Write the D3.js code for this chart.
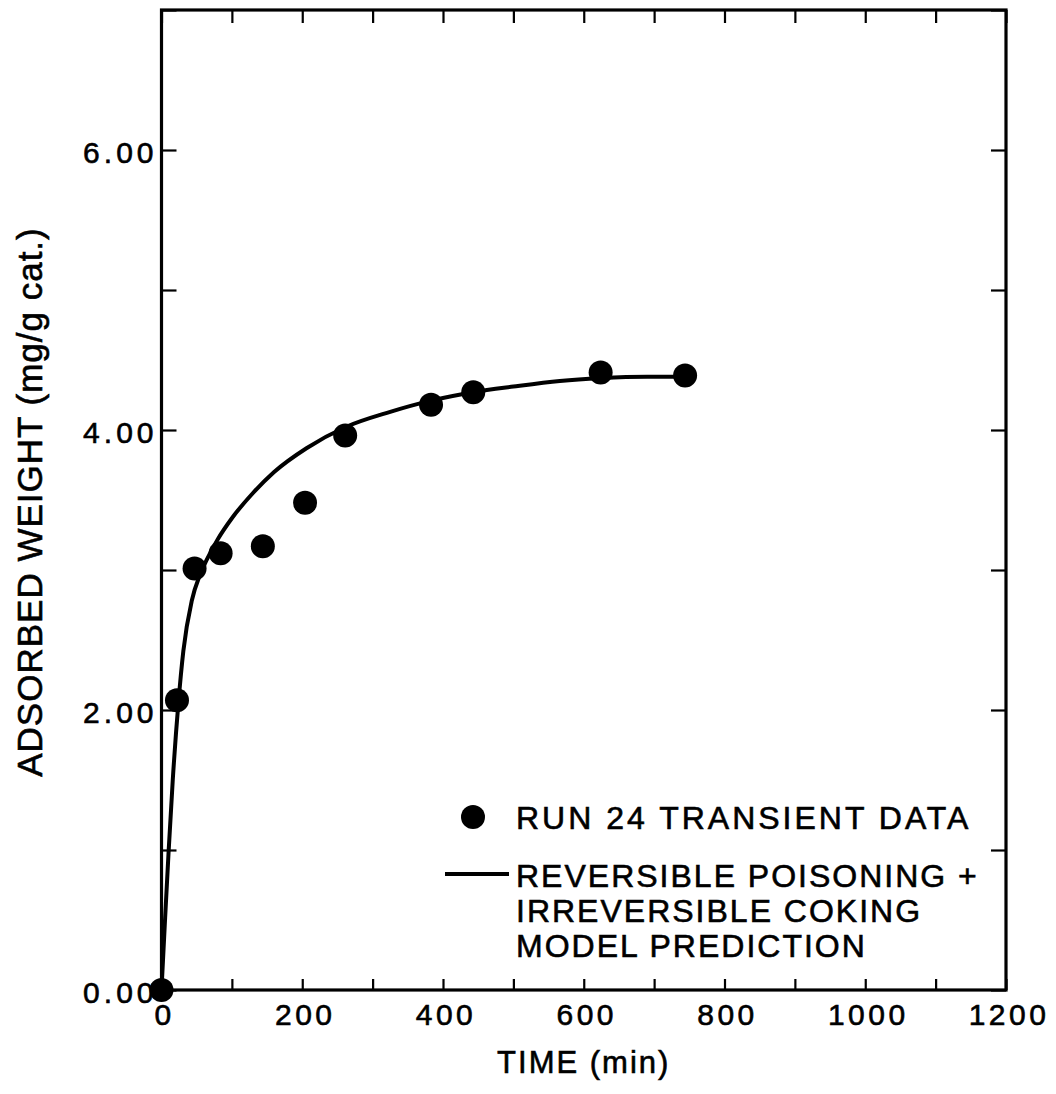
<!DOCTYPE html>
<html>
<head>
<meta charset="utf-8">
<script src="https://cdn.jsdelivr.net/npm/d3@7"></script>
<style>
  html, body { margin: 0; padding: 0; background: #fff; }
  svg { display: block; }
  text { font-family: "Liberation Sans", Arial, Helvetica, sans-serif; fill: #000; stroke: #000; stroke-width: 0.6px; }
</style>
</head>
<body>
<svg id="chart" width="1056" height="1094"></svg>
<script>
// ---- data ----
const runTime   = [0, 22, 47, 84, 144, 204, 261, 383, 443, 624, 744];
const runWeight = [0.00, 2.07, 3.01, 3.12, 3.17, 3.48, 3.96, 4.18, 4.27, 4.41, 4.39];

const modelTime   = [0, 5, 10, 16, 24, 31, 43, 55, 64, 80, 100, 130, 160, 206, 261, 325, 383, 443, 500, 566, 624, 690, 744];
const modelWeight = [0, 0.50, 0.98, 1.50, 2.05, 2.42, 2.78, 2.97, 3.07, 3.22, 3.37, 3.55, 3.70, 3.87, 4.02, 4.13, 4.21, 4.27, 4.31, 4.35, 4.37, 4.38, 4.38];

const xTicks = [0, 100, 200, 300, 400, 500, 600, 700, 800, 900, 1000, 1100, 1200];
const xTickLabels = ["0", "", "200", "", "400", "", "600", "", "800", "", "1000", "", "1200"];
const yTicks = [0, 1, 2, 3, 4, 5, 6, 7];
const yTickLabels = ["0.00", "", "2.00", "", "4.00", "", "6.00", ""];

const xTitle = "TIME (min)";
const yTitle = "ADSORBED WEIGHT (mg/g cat.)";
const legendLabels = ["RUN 24 TRANSIENT DATA", "REVERSIBLE POISONING +", "IRREVERSIBLE COKING", "MODEL PREDICTION"];

// ---- layout ----
const svg = d3.select("#chart");
const L = 161.5, R = 1006, T = 10, B = 990;
const x = d3.scaleLinear().domain([0, 1200]).range([L, R]);
const y = d3.scaleLinear().domain([0, 7]).range([B, T]);

// frame
svg.append("rect")
  .attr("x", L).attr("y", T).attr("width", R - L).attr("height", B - T)
  .attr("fill", "none").attr("stroke", "#000").attr("stroke-width", 3.2);

// axes (ticks pointing inward)
function styleAxis(g) {
  g.select(".domain").remove();
  g.selectAll(".tick line").attr("stroke", "#000").attr("stroke-width", 2.2);
}
const gB = svg.append("g").attr("transform", `translate(0,${B})`)
  .call(d3.axisBottom(x).tickValues(xTicks).tickSize(-11).tickFormat((d, i) => xTickLabels[i]));
styleAxis(gB);
gB.selectAll(".tick text")
  .attr("y", 35).attr("dy", null)
  .style("font-size", "30px").style("letter-spacing", "3.5px")
  .attr("dx", 2.5);

const gT = svg.append("g").attr("transform", `translate(0,${T})`)
  .call(d3.axisTop(x).tickValues(xTicks).tickSize(-13).tickFormat(""));
styleAxis(gT);

const gL = svg.append("g").attr("transform", `translate(${L},0)`)
  .call(d3.axisLeft(y).tickValues(yTicks).tickSize(-15).tickFormat((d, i) => yTickLabels[i]));
styleAxis(gL);
gL.selectAll(".tick text")
  .attr("x", -4).attr("dy", null).attr("y", 12)
  .style("font-size", "30px").style("letter-spacing", "4px");

const gR = svg.append("g").attr("transform", `translate(${R},0)`)
  .call(d3.axisRight(y).tickValues(yTicks).tickSize(-15).tickFormat(""));
styleAxis(gR);

// model curve
const modelData = modelTime.map((t, i) => [t, modelWeight[i]]);
svg.append("path")
  .datum(modelData)
  .attr("fill", "none").attr("stroke", "#000").attr("stroke-width", 4)
  .attr("stroke-linejoin", "round").attr("stroke-linecap", "round")
  .attr("d", d3.line().x(d => x(d[0])).y(d => y(d[1])).curve(d3.curveMonotoneX));

// data points
const runData = runTime.map((t, i) => [t, runWeight[i]]);
svg.append("g").selectAll("circle").data(runData).join("circle")
  .attr("cx", d => x(d[0])).attr("cy", d => y(d[1])).attr("r", 12)
  .attr("fill", "#000");

// axis titles
svg.append("text")
  .attr("x", x(600)).attr("y", 1073).attr("text-anchor", "middle")
  .style("font-size", "31px").style("letter-spacing", "2px")
  .text(xTitle);
svg.append("text")
  .attr("transform", `translate(42,${(T + B) / 2 + 2}) rotate(-90)`)
  .attr("text-anchor", "middle")
  .style("font-size", "35px").style("letter-spacing", "1px")
  .text(yTitle);

// legend
const lg = svg.append("g");
lg.append("circle").attr("cx", 473).attr("cy", 817).attr("r", 12).attr("fill", "#000");
lg.append("line").attr("x1", 445).attr("x2", 509).attr("y1", 874).attr("y2", 874)
  .attr("stroke", "#000").attr("stroke-width", 4);
const legY = [829, 887, 922, 957];
const legSpacing = [3, 2, 2, 2];
lg.selectAll("text.leg").data(legendLabels).join("text")
  .attr("class", "leg")
  .attr("x", 516).attr("y", (d, i) => legY[i])
  .style("font-size", "32px").style("letter-spacing", (d, i) => legSpacing[i] + "px")
  .text(d => d);
</script>
</body>
</html>
